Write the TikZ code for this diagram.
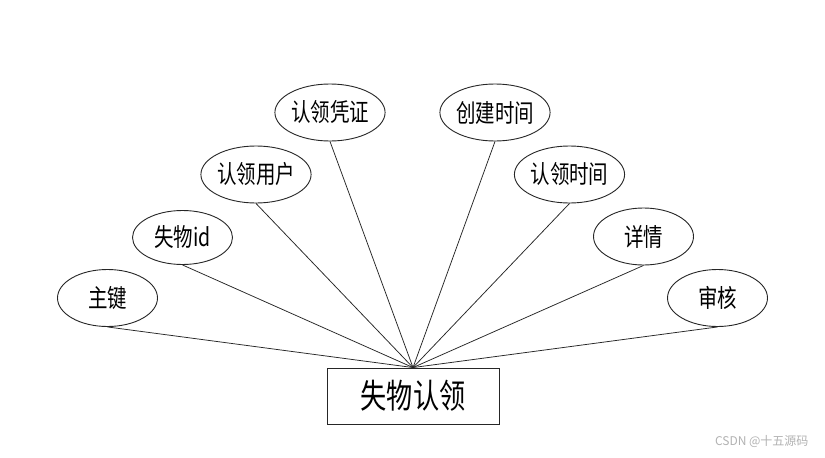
\documentclass[tikz,border=0pt]{standalone}
\usepackage{fontspec}
\setmainfont{Noto Sans CJK SC}
\usetikzlibrary{shapes.geometric}
\newcommand{\tallA}[1]{\scalebox{0.95}[1.22]{#1}}
\newcommand{\tallB}[1]{\scalebox{0.97}[1.25]{#1}}
\begin{document}
\begin{tikzpicture}[x=1pt,y=-1pt,
  attr/.style={draw=black!85,line width=0.9pt,ellipse,inner sep=0pt,minimum width=100pt,minimum height=57pt,font=\fontsize{20.5}{20.5}\selectfont},
  ent/.style={draw=black!85,line width=0.9pt,rectangle,inner sep=0pt,minimum width=172pt,minimum height=56pt,font=\fontsize{27}{27}\selectfont},
  link/.style={draw=black!85,line width=0.75pt}]
\useasboundingbox (0,0) rectangle (825,458);
\fill[white] (0,0) rectangle (825,458);
\node[ent] (e) at (413,396) {\tallB{失物认领}};
\node[attr] (a1) at (107.5,298) {\tallA{主键}};
\node[attr,minimum height=54pt] (a2) at (182.5,237.5) {\tallA{失物id}};
\node[attr] (a3) at (256,174.5) {\tallA{认领用户}};
\node[attr] (a4) at (330,112.5) {\tallA{认领凭证}};
\node[attr] (a5) at (495,112.5) {\tallA{创建时间}};
\node[attr] (a6) at (569.5,174.5) {\tallA{认领时间}};
\node[attr] (a7) at (643.5,236.5) {\tallA{详情}};
\node[attr] (a8) at (717.5,298) {\tallA{审核}};
\foreach \a in {a1,a2,a3,a4,a5,a6,a7,a8} \draw[link] (\a.south) -- (e.north);
\node[text=black!30,font=\fontsize{12}{12}\selectfont,anchor=east] (wm) at (812,441) {CSDN @十五源码};
\end{tikzpicture}
\end{document}
